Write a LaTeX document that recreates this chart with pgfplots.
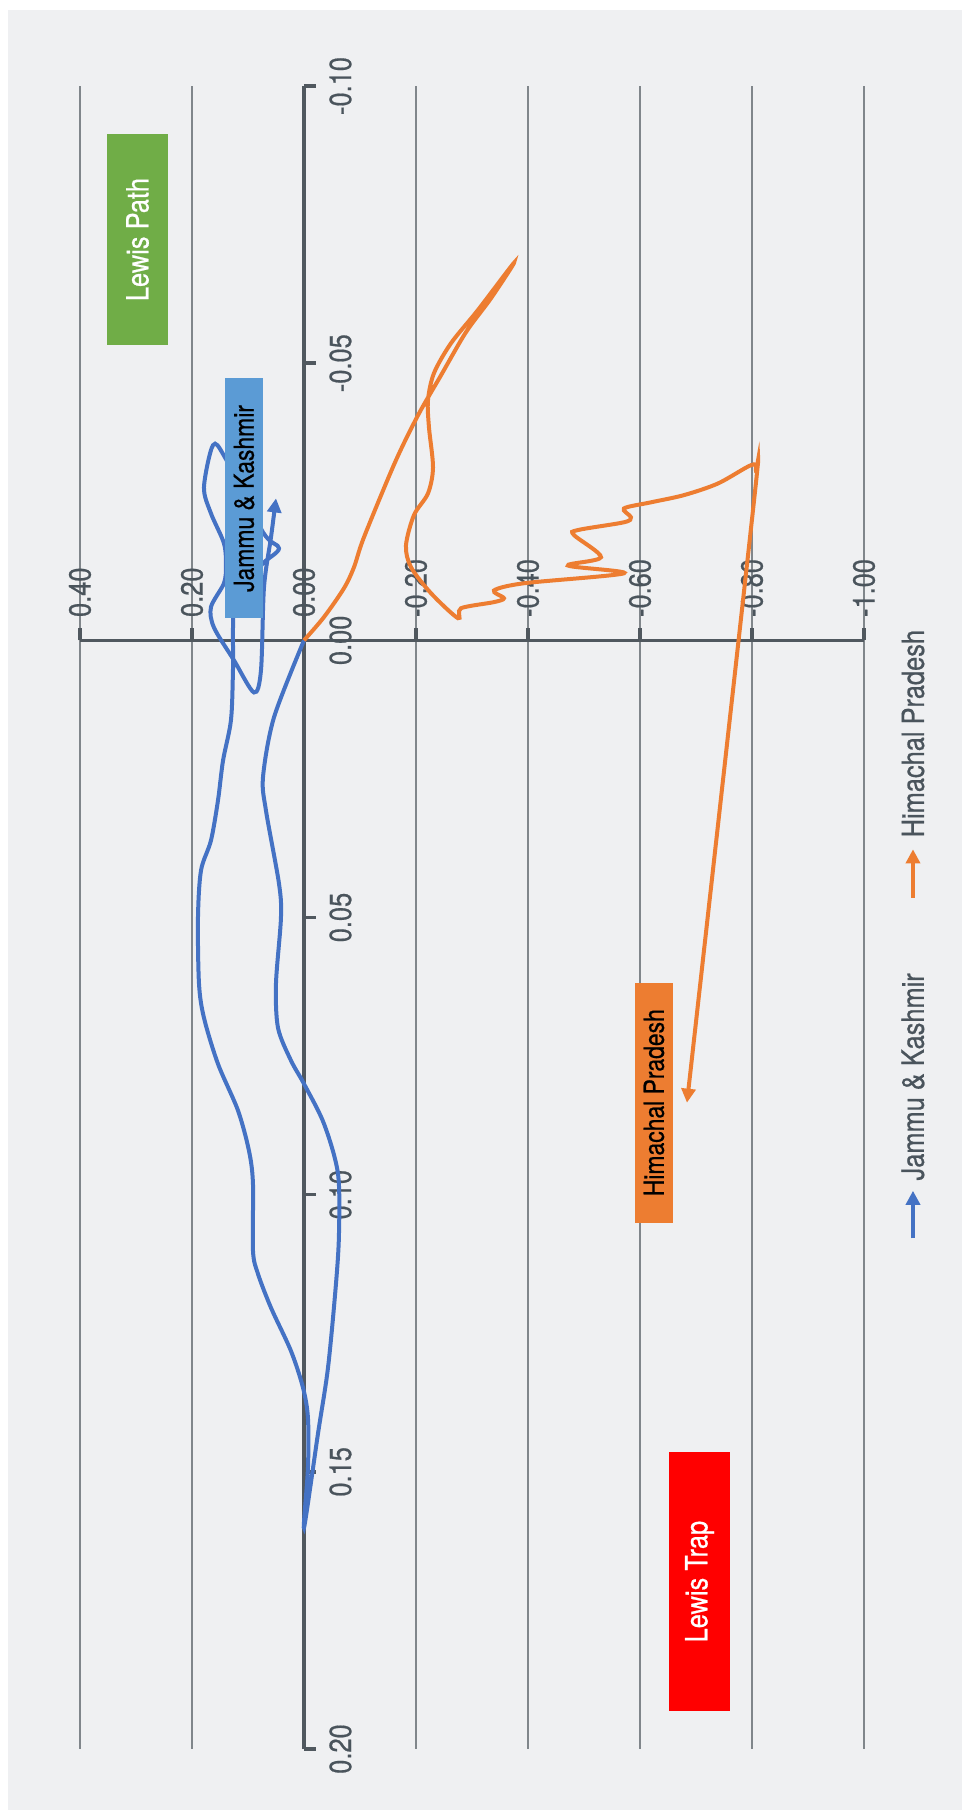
\documentclass[border=0pt]{standalone}
\usepackage{pgfplots}
\pgfplotsset{compat=1.18}
\usepackage{fontspec}
\setmainfont{TeX Gyre Heros}[FakeStretch=0.83, FakeBold=0.6]
\usetikzlibrary{arrows.meta}

\definecolor{bgc}{HTML}{EFF0F2}
\definecolor{gridc}{HTML}{80868B}
\definecolor{axisc}{HTML}{50585F}
\definecolor{txtc}{HTML}{4A545C}
\definecolor{jkc}{HTML}{4472C4}
\definecolor{hpc}{HTML}{ED7D31}
\definecolor{jklab}{HTML}{5B9BD5}
\definecolor{pathc}{HTML}{70AD47}
\definecolor{trapc}{HTML}{FF0000}

\newcommand{\tickfont}{\fontsize{15.3}{18}\selectfont}
\newcommand{\lblfont}{\fontsize{13.8}{16}\selectfont}

\begin{document}
\begin{tikzpicture}
% page and grey chart area (1 px of the reference = 0.5pt)
\fill[white] (-236pt,-451.25pt) rectangle (249pt,458.75pt);
\fill[bgc] (-232pt,-446.25pt) rectangle (245pt,453.75pt);

\begin{axis}[
    at={(0,0)}, anchor=center,
    scale only axis, width=392pt, height=831.5pt,
    xmin=-1, xmax=0.4, ymin=-0.1, ymax=0.2,
    x dir=reverse, y dir=reverse,
    hide axis, clip=false,
]
% grid lines
\pgfplotsinvokeforeach{0.4,0.2,-0.2,-0.4,-0.6,-0.8,-1}{
  \draw[gridc, line width=1pt] (axis cs:#1,-0.1) -- (axis cs:#1,0.2);
}
% axis lines and ticks
\draw[axisc, line width=1.8pt] (axis cs:0,-0.1) -- (axis cs:0,0.2);
\draw[axisc, line width=1.8pt] (axis cs:0.4,0) -- (axis cs:-1,0);
\pgfplotsinvokeforeach{-0.10,-0.05,0.00,0.05,0.10,0.15,0.20}{
  \draw[axisc, line width=1.8pt] (axis cs:0,#1) -- ([xshift=6pt]axis cs:0,#1);
  \node[rotate=90, anchor=north, inner sep=0pt, text=txtc, font=\tickfont]
    at ([xshift=12.5pt]axis cs:0,#1) {#1};
}
\pgfplotsinvokeforeach{0.40,0.20,0.00,-0.20,-0.40,-0.60,-0.80,-1.00}{
  \draw[axisc, line width=1.8pt] (axis cs:#1,0) -- ([yshift=6pt]axis cs:#1,0);
  \node[rotate=90, anchor=west, inner sep=0pt, text=txtc, font=\tickfont]
    at ([yshift=11.5pt]axis cs:#1,0) {#1};
}

% Jammu & Kashmir
\addplot[jkc, line width=2pt, smooth, -{Triangle[length=7pt,width=7pt]}] coordinates {
  (0,0) (0.0536,0.0139) (0.0732,0.0247) (0.0679,0.0307) (0.0446,0.0439)
  (0.0411,0.0500) (0.0500,0.0619) (0.0464,0.0699) (0.0232,0.0758) (0,0.0800)
  (-0.0357,0.0872) (-0.0607,0.0962) (-0.0625,0.1070) (-0.0571,0.1161)
  (-0.0429,0.1312) (-0.0250,0.1431) (0,0.1601) (-0.0071,0.1493)
  (-0.0071,0.1403) (0.0018,0.1348) (0.0232,0.1282) (0.0589,0.1204)
  (0.0821,0.1143) (0.0911,0.1101) (0.0911,0.0980) (0.0982,0.0921)
  (0.1179,0.0848) (0.1536,0.0764) (0.1786,0.0681) (0.1875,0.0619)
  (0.1893,0.0500) (0.1839,0.0415) (0.1661,0.0361) (0.1536,0.0289)
  (0.1446,0.0217) (0.1304,0.0144) (0.1268,0.0054) (0.1250,-0.0058)
  (0.1036,-0.0099) (0.0732,-0.0139) (0.0446,-0.0166) (0.0732,-0.0195)
  (0.1411,-0.0330) (0.1625,-0.0352) (0.1786,-0.0276) (0.1661,-0.0229)
  (0.1429,-0.0175) (0.1393,-0.0135) (0.1429,-0.0103) (0.1661,-0.0060)
  (0.1607,-0.0023) (0.1250,0.0036) (0.0893,0.0094) (0.0768,0.0054)
  (0.0714,-0.0096) (0.0589,-0.0186) (0.0500,-0.0256)
};

% Himachal Pradesh
\addplot[hpc, line width=2pt, smooth, -{Triangle[length=7pt,width=7pt]}] coordinates {
  (0,0) (-0.0357,-0.0042) (-0.0714,-0.0094) (-0.0893,-0.0132)
  (-0.1071,-0.0186) (-0.1625,-0.0321) (-0.2036,-0.0406) (-0.2446,-0.0478)
  (-0.2893,-0.0556) (-0.3339,-0.0617) (-0.3750,-0.0681)
  (-0.3107,-0.0596) (-0.2625,-0.0536) (-0.2321,-0.0482) (-0.2214,-0.0433)
  (-0.2232,-0.0384) (-0.2304,-0.0312) (-0.2214,-0.0265) (-0.1964,-0.0226)
  (-0.1821,-0.0171) (-0.1911,-0.0132) (-0.2268,-0.0085) (-0.2750,-0.0040)
  (-0.2804,-0.0058) (-0.3393,-0.0069) (-0.3571,-0.0076) (-0.3393,-0.0090)
  (-0.3929,-0.0103) (-0.5714,-0.0121)
  (-0.4714,-0.0135) (-0.5304,-0.0150) (-0.4821,-0.0190) (-0.4893,-0.0199)
  (-0.5714,-0.0213) (-0.5839,-0.0222) (-0.5714,-0.0238) (-0.6196,-0.0249)
  (-0.6786,-0.0262) (-0.7393,-0.0283) (-0.7982,-0.0316) (-0.8071,-0.0307)
  (-0.8018,-0.0235) (-0.6839,0.0834)
};

% data labels
\node[fill=jklab, rotate=90, minimum width=120pt, minimum height=19pt,
      inner sep=0pt, font=\lblfont] at ([xshift=-16pt]axis cs:0.0500,-0.0256) {Jammu \& Kashmir};
\node[fill=hpc, rotate=90, minimum width=120pt, minimum height=19pt,
      inner sep=0pt, font=\lblfont] at ([xshift=-16.5pt]axis cs:-0.6839,0.0834) {Himachal Pradesh};

% zone labels
\node[fill=pathc, text=white, rotate=90, minimum width=105.5pt, minimum height=30.5pt,
      inner sep=0pt, font=\tickfont] at (axis cs:0.2973,-0.0723) {Lewis Path};
\node[fill=trapc, text=white, rotate=90, minimum width=129.5pt, minimum height=30.5pt,
      inner sep=0pt, font=\tickfont] at (axis cs:-0.7063,0.1698) {Lewis Trap};

% legend
\draw[hpc, line width=2pt, -{Triangle[length=7pt,width=7pt]}]
  (axis cs:-1.0875,0.0464) -- (axis cs:-1.0875,0.0377);
\node[rotate=90, anchor=west, inner sep=0pt, text=txtc, font=\tickfont]
  at (axis cs:-1.0875,0.0356) {Himachal Pradesh};
\draw[jkc, line width=2pt, -{Triangle[length=7pt,width=7pt]}]
  (axis cs:-1.0875,0.1079) -- (axis cs:-1.0875,0.0993);
\node[rotate=90, anchor=west, inner sep=0pt, text=txtc, font=\tickfont]
  at (axis cs:-1.0875,0.0975) {Jammu \& Kashmir};
\end{axis}

\pgfresetboundingbox
\path (-236pt,-451.25pt) rectangle (249pt,458.75pt);
\end{tikzpicture}
\end{document}
